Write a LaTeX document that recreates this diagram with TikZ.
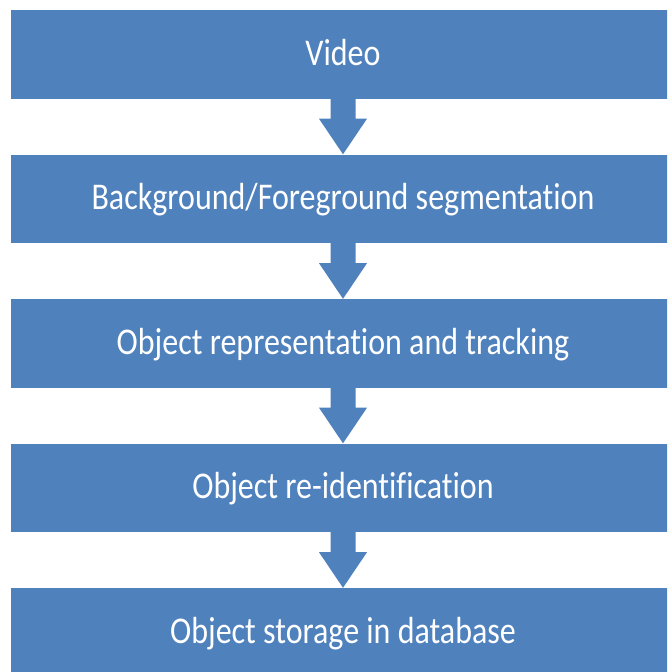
\documentclass[tikz,border=0pt]{standalone}
\usepackage{fontspec}
\setmainfont{Carlito}[Ligatures={NoCommon,NoRare,NoContextual}]
\usepackage{graphicx}
\definecolor{boxblue}{HTML}{4F81BD}
\begin{document}
\begin{tikzpicture}[x=1pt,y=-1pt,
  stepbox/.style={rectangle, fill=boxblue, draw=none, inner sep=0pt,
    minimum width=664pt, minimum height=88.5pt,
    text=white, text height=21.5pt, text depth=0pt,
    font=\fontsize{32}{38}\selectfont},
  blockarrow/.style={fill=boxblue, draw=none}]
\useasboundingbox (0,0) rectangle (667,672);
\clip (0,0) rectangle (667,672);
\node[stepbox] (b1) at (343,54.25) {\scalebox{1}[1.18]{Video}};
\node[stepbox] (b2) at (343,198.75) {\scalebox{1}[1.18]{Background/Foreground segmentation}};
\node[stepbox] (b3) at (343,343.25) {\scalebox{1}[1.18]{Object representation and tracking}};
\node[stepbox] (b4) at (343,487.75) {\scalebox{1}[1.18]{Object re-identification}};
\node[stepbox] (b5) at (343,632.25) {\scalebox{1}[1.18]{Object storage in database}};
\foreach \a/\b in {b1/b2,b2/b3,b3/b4,b4/b5}{
  \fill[blockarrow] ([xshift=-12.5pt]\a.south) -- ([xshift=-12.5pt,yshift=-20pt]\a.south)
    -- ([xshift=-24pt,yshift=-20pt]\a.south) -- (\b.north)
    -- ([xshift=24pt,yshift=-20pt]\a.south) -- ([xshift=12.5pt,yshift=-20pt]\a.south)
    -- ([xshift=12.5pt]\a.south) -- cycle;
}
\end{tikzpicture}
\end{document}
